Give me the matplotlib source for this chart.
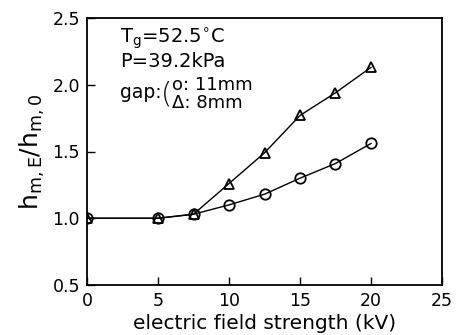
import matplotlib
matplotlib.use("Agg")
import matplotlib.pyplot as plt

field_kv = [0, 5, 7.5, 10, 12.5, 15, 17.5, 20]
gap_11mm = [1.00, 1.00, 1.03, 1.10, 1.18, 1.30, 1.41, 1.56]
gap_8mm = [1.00, 1.00, 1.03, 1.26, 1.49, 1.77, 1.94, 2.13]
xticks = [0, 5, 10, 15, 20, 25]
yticks = [0.5, 1.0, 1.5, 2.0, 2.5]

plt.rcParams['font.family'] = ['DejaVu Sans']
plt.rcParams['mathtext.fontset'] = 'dejavusans'
fig = plt.figure(figsize=(4.58, 3.35), dpi=100)
ax = fig.add_axes([87/458, 1-285/335, (442-87)/458, (285-18)/335])

ax.plot(field_kv, gap_11mm, color='black', lw=1, marker='o', ms=7.5, mfc='none', mec='black', mew=1.3)
ax.plot(field_kv, gap_8mm, color='black', lw=1, marker='^', ms=7.5, mfc='none', mec='black', mew=1.3)

ax.set_xlim(0, 25)
ax.set_ylim(0.5, 2.5)
ax.set_xticks(xticks)
ax.set_yticks(yticks)
ax.set_xticklabels([str(v) for v in xticks])
ax.set_yticklabels([f"{v:.1f}" for v in yticks])
ax.tick_params(direction='in', length=6, width=1, labelsize=12.5, top=False, right=False, pad=5)
for s in ax.spines.values():
    s.set_linewidth(1.3)

ax.set_xlabel('electric field strength (kV)', fontsize=14.5, labelpad=3)
ax.set_ylabel(r'$\mathregular{h_{m,E}/h_{m,0}}$', fontsize=18, labelpad=4)

ax.text(2.3, 2.44, r'$\mathregular{T_g}$=52.5$\mathregular{^{\circ}}$C', fontsize=14, va='top', ha='left')
ax.text(2.3, 2.245, 'P=39.2kPa', fontsize=14, va='top', ha='left')
ax.text(2.3, 1.945, 'gap:', fontsize=13.5, va='center', ha='left')
ax.text(5.2, 1.93, '(', fontsize=21, va='center', ha='left', fontweight='light')
ax.text(6.0, 2.0, 'o: 11mm', fontsize=13, va='center', ha='left')
ax.text(6.0, 1.865, 'Δ: 8mm', fontsize=13, va='center', ha='left')

fig.savefig('out.png', dpi=100)
